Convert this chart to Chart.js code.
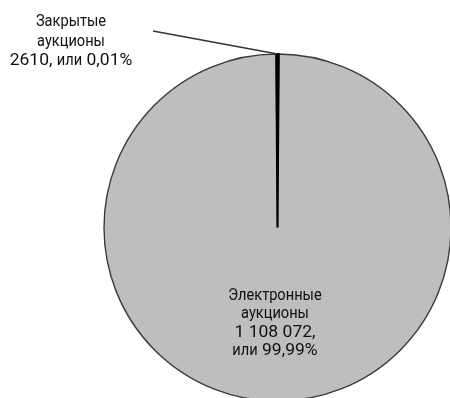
<!DOCTYPE html>
<html>
<head>
<meta charset="utf-8">
<script src="https://cdn.jsdelivr.net/npm/chart.js@4.4.1/dist/chart.umd.min.js"></script>
<style>
  html, body { margin: 0; padding: 0; background: #fff; overflow: hidden; }
  #wrap { position: absolute; left: 0; top: 0; width: 460px; height: 410px; }
</style>
</head>
<body>
<div id="wrap"><canvas id="aukciony"></canvas></div>
<script>
// Аукционы по способу проведения
const categories = ['Электронные аукционы', 'Закрытые аукционы'];
const values = [1108072, 2610];
const labelLines = [
    ['Электронные', 'аукционы', '1 108 072,', 'или 99,99%'],
    ['Закрытые', 'аукционы', '2610, или 0,01%']
];

// узкие буквы, цифры пошире — как в наборе журнала
const SX_BUKVY = 0.86;
const SX_PROCHEE = 1.03;

function drawLine(ctx, text, cx, y) {
    // режем строку на куски: кириллица / всё остальное
    const runs = text.match(/[А-Яа-яЁё]+|[^А-Яа-яЁё]+/g) || [];
    const parts = runs.map(r => {
        const sx = /[А-Яа-яЁё]/.test(r) ? SX_BUKVY : SX_PROCHEE;
        return { r, sx, w: ctx.measureText(r).width * sx };
    });
    const total = parts.reduce((s, p) => s + p.w, 0);
    let x = cx - total / 2;
    parts.forEach(p => {
        ctx.save();
        ctx.translate(x, y);
        ctx.scale(p.sx, 1);
        ctx.fillText(p.r, 0, 0);
        ctx.restore();
        x += p.w;
    });
}

// подписи секторов и выноска для маленького сектора
const podpisi = {
    id: 'podpisi',
    afterDatasetsDraw(chart) {
        const ctx = chart.ctx;
        const arcs = chart.getDatasetMeta(0).data;
        ctx.save();
        ctx.fillStyle = '#111';
        ctx.textAlign = 'left';
        ctx.textBaseline = 'alphabetic';
        ctx.font = '17px Roboto';

        // выноска к закрытым аукционам
        const a = arcs[1];
        const mid = (a.startAngle + a.endAngle) / 2;
        const ox = a.x + Math.cos(mid) * a.outerRadius;
        const oy = a.y + Math.sin(mid) * a.outerRadius;
        ctx.strokeStyle = '#333';
        ctx.lineWidth = 1.4;
        ctx.beginPath();
        ctx.moveTo(ox, oy);
        ctx.lineTo(153, 31);
        ctx.stroke();

        labelLines[0].forEach((t, i) => drawLine(ctx, t, 275, 300 + i * 18.3));
        labelLines[1].forEach((t, i) => drawLine(ctx, t, 71, 26 + i * 19.5));
        ctx.restore();
    }
};

new Chart(document.getElementById('aukciony'), {
    type: 'pie',
    data: {
        labels: categories,
        datasets: [{
            data: values,
            backgroundColor: ['#bebebe', '#000'],
            borderColor: ['#3a3a3a', '#000'],
            borderWidth: [1.4, 2]
        }]
    },
    options: {
        responsive: true,
        maintainAspectRatio: false,
        animation: false,
        rotation: 0.42,
        layout: { padding: { left: 103, top: 53, right: 8, bottom: 8 } },
        plugins: {
            legend: { display: false },
            tooltip: { enabled: false }
        }
    },
    plugins: [podpisi]
});
</script>
</body>
</html>
